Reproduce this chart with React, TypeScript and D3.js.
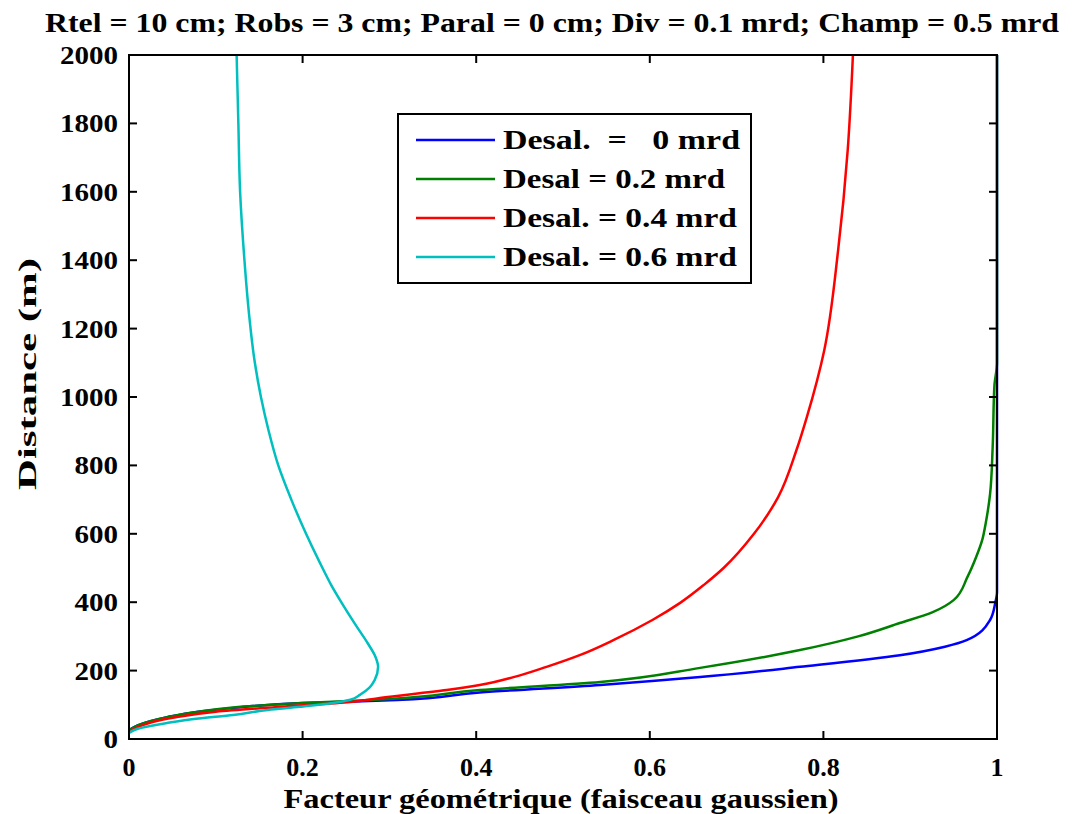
import React from "react";
import * as d3 from "d3";

const W = 1081;
const H = 814;

const titleText = "Rtel = 10 cm; Robs = 3 cm; Paral = 0 cm; Div = 0.1 mrd; Champ = 0.5 mrd";
const xLabel = "Facteur géométrique (faisceau gaussien)";
const yLabel = "Distance (m)";

const xTicks = [0, 0.2, 0.4, 0.6, 0.8, 1];
const xTickLabels = ["0", "0.2", "0.4", "0.6", "0.8", "1"];
const yTicks = [0, 200, 400, 600, 800, 1000, 1200, 1400, 1600, 1800, 2000];

// Desal = 0 mrd
const blueDist = [26, 40, 64, 80, 91, 105, 114, 136, 158, 181, 211, 245, 270, 289, 348, 398, 430, 1032, 2000];
const blueFactor = [0, 0.01, 0.044, 0.08, 0.12, 0.2, 0.309, 0.404, 0.543, 0.658, 0.773, 0.888, 0.94, 0.965, 0.992, 0.998, 1.0, 1.0, 1.0];

// Desal = 0.2 mrd
const greenDist = [24, 40, 64, 80, 92, 105, 117, 143, 167, 208, 260, 300, 339, 371, 406, 474, 532, 582, 631, 716, 853, 1032, 1100, 2000];
const greenFactor = [0, 0.01, 0.044, 0.08, 0.12, 0.2, 0.3, 0.404, 0.543, 0.658, 0.773, 0.84, 0.888, 0.926, 0.95, 0.966, 0.976, 0.983, 0.987, 0.992, 0.995, 0.997, 1.0, 1.0];

// Desal = 0.4 mrd
const redDist = [22, 40, 62, 80, 95, 108, 120, 143, 158, 181, 211, 246, 289, 348, 398, 450, 500, 600, 708, 845, 942, 1137, 1430, 1722, 2000];
const redFactor = [0, 0.015, 0.05, 0.1, 0.18, 0.255, 0.289, 0.366, 0.404, 0.443, 0.481, 0.52, 0.558, 0.603, 0.635, 0.662, 0.685, 0.72, 0.748, 0.769, 0.781, 0.801, 0.817, 0.828, 0.834];

// Desal = 0.6 mrd
const cyanDist = [18, 30, 47, 60, 70, 85, 94, 105, 115, 129, 150, 172, 211, 240, 280, 330, 390, 450, 520, 600, 700, 800, 900, 1000, 1100, 1250, 1400, 1600, 1800, 2000];
const cyanFactor = [0, 0.01, 0.044, 0.08, 0.12, 0.16, 0.197, 0.235, 0.255, 0.266, 0.277, 0.283, 0.287, 0.284, 0.275, 0.262, 0.247, 0.233, 0.219, 0.204, 0.187, 0.172, 0.161, 0.152, 0.145, 0.138, 0.133, 0.128, 0.126, 0.124];

const seriesNames = ["Desal.  =   0 mrd", "Desal = 0.2 mrd", "Desal. = 0.4 mrd", "Desal. = 0.6 mrd"];
const seriesColors = ["#0000ff", "#008000", "#ff0000", "#00bfbf"];
const legendWidths = [237, 222, 234, 234];

const FONT = '"Liberation Serif", "Times New Roman", Times, serif';

export default function App() {
  const left = 129, right = 997, top = 55, bottom = 739;
  const x = d3.scaleLinear().domain([0, 1]).range([left, right]);
  const y = d3.scaleLinear().domain([0, 2000]).range([bottom, top]);

  const series = [
    { d: blueDist, f: blueFactor },
    { d: greenDist, f: greenFactor },
    { d: redDist, f: redFactor },
    { d: cyanDist, f: cyanFactor },
  ];

  const line = d3
    .line<[number, number]>()
    .x((p) => x(p[1]))
    .y((p) => y(p[0]))
    .curve(d3.curveMonotoneY);

  const tickLen = 8;
  const legendRows = [140, 179, 218, 257];

  return (
    <svg
      width={W}
      height={H}
      style={{ position: "absolute", left: 0, top: 0, background: "#fff", fontFamily: FONT, fontWeight: 700 }}
    >
      <rect x={0} y={0} width={W} height={H} fill="#fff" />
      <text x={552} y={32} fontSize={28} textAnchor="middle" textLength={1014} lengthAdjust="spacingAndGlyphs">
        {titleText}
      </text>

      <g fill="none" strokeWidth={2.5} strokeLinejoin="round">
        {series.map((s, i) => (
          <path
            key={i}
            d={line(s.d.map((dv, j) => [dv, s.f[j]] as [number, number])) || ""}
            stroke={seriesColors[i]}
          />
        ))}
      </g>

      <rect x={left} y={top} width={right - left} height={bottom - top} fill="none" stroke="#000" strokeWidth={2} />
      {xTicks.map((t, i) => (
        <g key={"xt" + i}>
          <line x1={x(t)} x2={x(t)} y1={bottom} y2={bottom - tickLen} stroke="#000" strokeWidth={2} />
          <line x1={x(t)} x2={x(t)} y1={top} y2={top + tickLen} stroke="#000" strokeWidth={2} />
          <text x={x(t)} y={776} fontSize={26} textAnchor="middle">
            {xTickLabels[i]}
          </text>
        </g>
      ))}
      {yTicks.map((t, i) => {
        const label = String(t);
        return (
          <g key={"yt" + i}>
            <line x1={left} x2={left + tickLen} y1={y(t)} y2={y(t)} stroke="#000" strokeWidth={2} />
            <line x1={right} x2={right - tickLen} y1={y(t)} y2={y(t)} stroke="#000" strokeWidth={2} />
            <text
              x={118}
              y={y(t) + 9}
              fontSize={25}
              textAnchor="end"
              textLength={label.length * 14.5}
              lengthAdjust="spacingAndGlyphs"
            >
              {label}
            </text>
          </g>
        );
      })}

      <text x={561} y={808} fontSize={27} textAnchor="middle" textLength={555} lengthAdjust="spacingAndGlyphs">
        {xLabel}
      </text>
      <text
        transform={`translate(36, 374) rotate(-90)`}
        fontSize={26}
        textAnchor="middle"
        textLength={232}
        lengthAdjust="spacingAndGlyphs"
      >
        {yLabel}
      </text>

      <rect x={398} y={114} width={353} height={169} fill="#fff" stroke="#000" strokeWidth={2} />
      {seriesNames.map((n, i) => (
        <g key={"lg" + i}>
          <line x1={416} x2={495} y1={legendRows[i]} y2={legendRows[i]} stroke={seriesColors[i]} strokeWidth={2.5} />
          <text
            x={503}
            y={legendRows[i] + 9}
            fontSize={28}
            style={{ whiteSpace: "pre" }}
            textLength={legendWidths[i]}
            lengthAdjust="spacingAndGlyphs"
          >
            {n}
          </text>
        </g>
      ))}
    </svg>
  );
}
